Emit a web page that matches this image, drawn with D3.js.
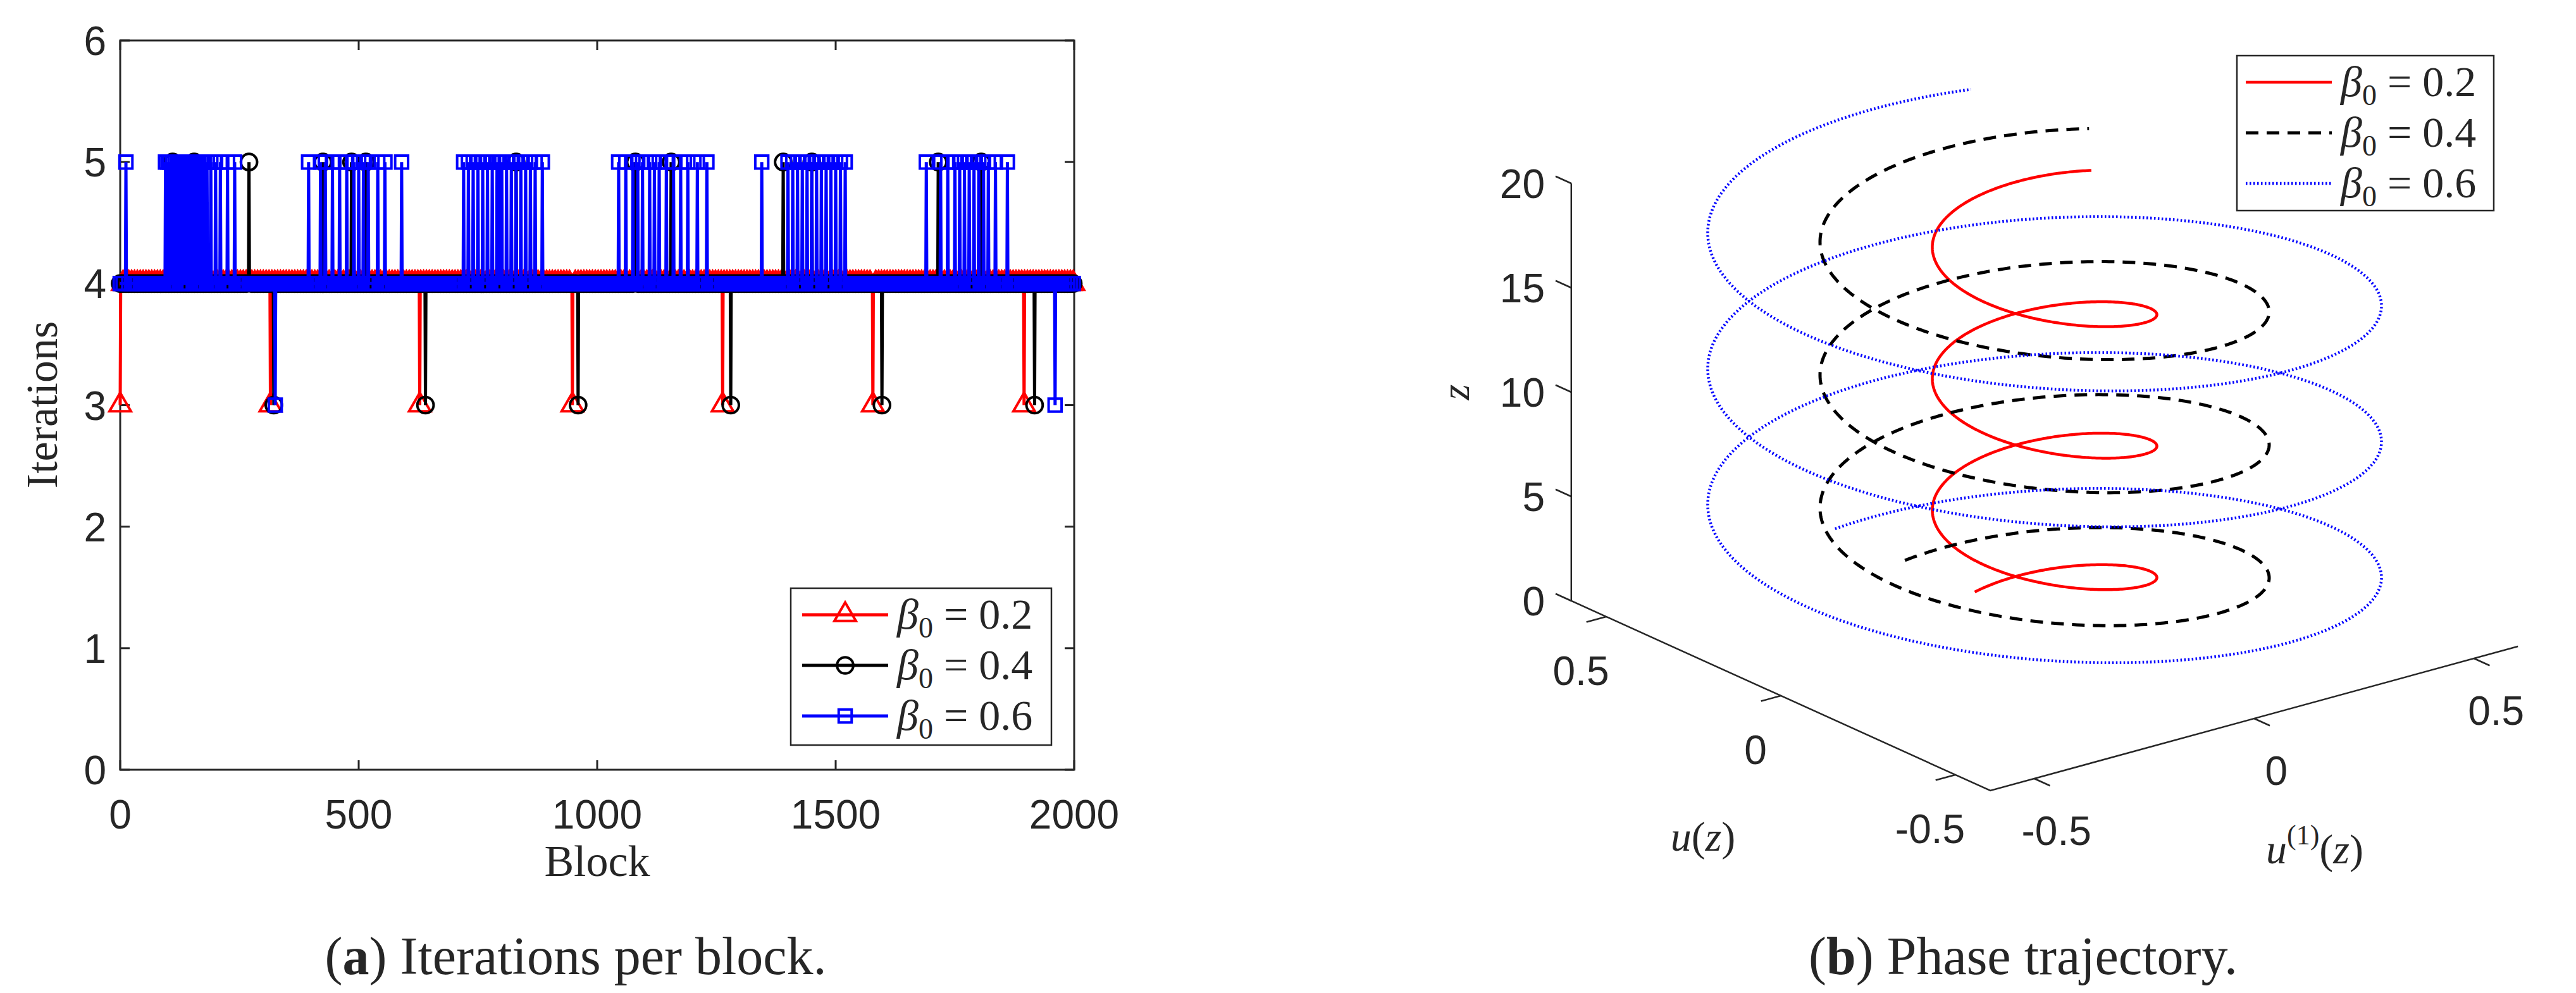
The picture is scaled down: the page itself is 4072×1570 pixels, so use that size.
<!DOCTYPE html>
<html>
<head>
<meta charset="utf-8">
<script src="https://cdn.jsdelivr.net/npm/d3@7"></script>
<style>
  body { margin: 0; background: #fff; }
  svg text { fill: #262626; }
</style>
</head>
<body>
<svg id="chart" width="4072" height="1570"></svg>
<script>
// ---- data: left panel (iterations per block) ----
const nBlocks = 2000;
const blocksTicks = [0, 500, 1000, 1500, 2000];
const iterTicks = [0, 1, 2, 3, 4, 5, 6];
const betaLabels = ["0.2", "0.4", "0.6"];
// blocks where the iteration count differs from 4
const red3 = [0, 315, 628, 948, 1263, 1578, 1895];
const red5 = [];
const black3 = [322, 640, 960, 1280, 1597, 1917];
const black5 = [110, 155, 270, 425, 485, 515, 830, 1080, 1155, 1390, 1450, 1715, 1805];
const blue3 = [325, 1960];
const blue5 = [12, 95, 100, 104, 110, 115, 120, 124, 130, 135, 140, 145, 150, 155, 160, 165, 170, 176, 182, 190, 200, 210, 225, 240,
  395, 420, 430, 445, 460, 475, 490, 500, 510, 520, 540, 555, 590,
  720, 730, 740, 750, 760, 770, 780, 790, 795, 800, 810, 820, 830, 840, 850, 860, 870, 885,
  1045, 1060, 1075, 1085, 1095, 1110, 1120, 1130, 1145, 1160, 1175, 1190, 1210, 1230,
  1345, 1400, 1410, 1420, 1430, 1440, 1450, 1460, 1470, 1480, 1490, 1500, 1510, 1520,
  1690, 1720, 1735, 1750, 1760, 1770, 1780, 1790, 1800, 1810, 1820, 1835, 1860];

// ---- data: right panel (phase trajectory) ----
const betas = [0.2, 0.4, 0.6];
const omegas = [0.9975, 0.986, 0.965];   // angular rate read from where each spiral ends
const zMax = 20;
const zTicks = [0, 5, 10, 15, 20];
const uTicks = [-0.5, 0, 0.5];

const svg = d3.select("#chart");
const numFont = "'Liberation Sans', Arial, sans-serif";
const serif = "'Liberation Serif', 'DejaVu Serif', serif";

function series(threes, fives) {
  const out = [];
  for (let b = 0; b <= nBlocks; b++) {
    let v = 4;
    if (threes.includes(b)) v = 3;
    if (fives.includes(b)) v = 5;
    out.push({ b: b, v: v });
  }
  return out;
}

// ================= left panel =================
const x = d3.scaleLinear().domain([0, nBlocks]).range([190, 1698]);
const y = d3.scaleLinear().domain([0, 6]).range([1217, 64]);

const left = svg.append("g");
left.append("rect").attr("x", 190).attr("y", 64).attr("width", 1508).attr("height", 1153)
  .attr("fill", "none").attr("stroke", "#262626").attr("stroke-width", 3);

const tickLen = 15;
blocksTicks.forEach(t => {
  left.append("line").attr("x1", x(t)).attr("x2", x(t)).attr("y1", 1217).attr("y2", 1217 - tickLen).attr("stroke", "#262626").attr("stroke-width", 3);
  left.append("line").attr("x1", x(t)).attr("x2", x(t)).attr("y1", 64).attr("y2", 64 + tickLen).attr("stroke", "#262626").attr("stroke-width", 3);
  left.append("text").attr("x", x(t)).attr("y", 1310).attr("text-anchor", "middle")
    .attr("font-family", numFont).attr("font-size", 64).text(t);
});
iterTicks.forEach(t => {
  left.append("line").attr("x1", 190).attr("x2", 190 + tickLen).attr("y1", y(t)).attr("y2", y(t)).attr("stroke", "#262626").attr("stroke-width", 3);
  left.append("line").attr("x1", 1698).attr("x2", 1698 - tickLen).attr("y1", y(t)).attr("y2", y(t)).attr("stroke", "#262626").attr("stroke-width", 3);
  left.append("text").attr("x", 168).attr("y", y(t) + 23).attr("text-anchor", "end")
    .attr("font-family", numFont).attr("font-size", 64).text(t);
});
left.append("text").attr("transform", "translate(90,640) rotate(-90)").attr("text-anchor", "middle")
  .attr("font-family", serif).attr("font-size", 70).text("Iterations");
left.append("text").attr("x", 944).attr("y", 1385).attr("text-anchor", "middle")
  .attr("font-family", serif).attr("font-size", 70).text("Block");

const sym = {
  tri: d3.symbol().type(d3.symbolTriangle).size(500),
  circ: d3.symbol().type(d3.symbolCircle).size(520),
  sq: d3.symbol().type(d3.symbolSquare).size(420)
};
const leftSeries = [
  { data: series(red3, red5), color: "#ff0000", sym: sym.tri },
  { data: series(black3, black5), color: "#000000", sym: sym.circ },
  { data: series(blue3, blue5), color: "#0000ff", sym: sym.sq }
];
const line = d3.line().x(d => x(d.b)).y(d => y(d.v));
const plot = left.append("g");
leftSeries.forEach(s => {
  plot.append("path").attr("d", line(s.data)).attr("fill", "none")
    .attr("stroke", s.color).attr("stroke-width", 5);
  plot.selectAll(null).data(s.data.filter(d => d.v !== 4 || d.b % 6 === 0)).enter().append("path")
    .attr("d", s.sym()).attr("transform", d => `translate(${x(d.b)},${y(d.v)})`)
    .attr("fill", "none").attr("stroke", s.color).attr("stroke-width", 4);
});

// legend (left)
const lg = left.append("g");
lg.append("rect").attr("x", 1250).attr("y", 930).attr("width", 412).attr("height", 248)
  .attr("fill", "#fff").attr("stroke", "#262626").attr("stroke-width", 2.5);
leftSeries.forEach((s, i) => {
  const yy = 972 + i * 80;
  lg.append("line").attr("x1", 1268).attr("x2", 1404).attr("y1", yy).attr("y2", yy).attr("stroke", s.color).attr("stroke-width", 5);
  lg.append("path").attr("d", s.sym()).attr("transform", `translate(1336,${yy})`).attr("fill", "none").attr("stroke", s.color).attr("stroke-width", 4);
  const t = lg.append("text").attr("x", 1418).attr("y", yy + 22).attr("font-family", serif).attr("font-size", 68).attr("fill", "#000");
  t.append("tspan").attr("font-style", "italic").text("β");
  t.append("tspan").attr("font-size", 46).attr("dy", 14).text("0");
  t.append("tspan").attr("dy", -14).text(" = " + betaLabels[i]);
});

svg.append("text").attr("x", 910).attr("y", 1540).attr("text-anchor", "middle")
  .attr("font-family", serif).attr("font-size", 84).attr("fill", "#000")
  .call(t => {
    t.append("tspan").text("(");
    t.append("tspan").attr("font-weight", "bold").text("a");
    t.append("tspan").text(") Iterations per block.");
  });

// ================= right panel (3D projection) =================
const O = [3232, 986];
const eu = [-552, -250];   // screen offset per unit of u(z)
const e1 = [695, -190];    // screen offset per unit of u^(1)(z)
const zs = d3.scaleLinear().domain([0, zMax]).range([0, -660]);
const uMin = -0.6, uMax = 0.6;
function proj(u, u1, z) {
  return [O[0] + u * eu[0] + u1 * e1[0], O[1] + u * eu[1] + u1 * e1[1] + zs(z)];
}

const right = svg.append("g");
const axStyle = g => g.attr("stroke", "#262626").attr("stroke-width", 2.5).attr("fill", "none");
const pA = proj(uMax, uMin, 0), pB = proj(uMin, uMin, 0), pC = proj(uMin, uMax, 0), pT = proj(uMax, uMin, zMax);
right.append("path").attr("d", d3.line()([pT, pA, pB, pC])).call(axStyle);

zTicks.forEach(t => {
  const p = proj(uMax, uMin, t), q = proj(uMax + 0.045, uMin, t);
  right.append("line").attr("x1", p[0]).attr("y1", p[1]).attr("x2", q[0]).attr("y2", q[1]).call(axStyle);
  right.append("text").attr("x", 2442).attr("y", p[1] + 23).attr("text-anchor", "end")
    .attr("font-family", numFont).attr("font-size", 64).text(t);
});
uTicks.forEach(t => {
  const p = proj(t, uMin, 0), q = proj(t, uMin - 0.045, 0);
  right.append("line").attr("x1", p[0]).attr("y1", p[1]).attr("x2", q[0]).attr("y2", q[1]).call(axStyle);
  right.append("text").attr("x", p[0] - 40).attr("y", p[1] + 108).attr("text-anchor", "middle")
    .attr("font-family", numFont).attr("font-size", 64).text(t);
  const r = proj(uMin, t, 0), s = proj(uMin - 0.045, t, 0);
  right.append("line").attr("x1", r[0]).attr("y1", r[1]).attr("x2", s[0]).attr("y2", s[1]).call(axStyle);
  right.append("text").attr("x", r[0] + 35).attr("y", r[1] + 105).attr("text-anchor", "middle")
    .attr("font-family", numFont).attr("font-size", 64).text(t);
});
right.append("text").attr("transform", "translate(2322,620) rotate(-90)").attr("text-anchor", "middle")
  .attr("font-family", serif).attr("font-style", "italic").attr("font-size", 64).text("z");
right.append("text").attr("x", 2692).attr("y", 1345).attr("text-anchor", "middle")
  .attr("font-family", serif).attr("font-size", 66)
  .call(t => {
    t.append("tspan").attr("font-style", "italic").text("u");
    t.append("tspan").text("(");
    t.append("tspan").attr("font-style", "italic").text("z");
    t.append("tspan").text(")");
  });
right.append("text").attr("x", 3659).attr("y", 1365).attr("text-anchor", "middle")
  .attr("font-family", serif).attr("font-size", 66)
  .call(t => {
    t.append("tspan").attr("font-style", "italic").text("u");
    t.append("tspan").attr("font-size", 44).attr("dy", -30).text("(1)");
    t.append("tspan").attr("dy", 30).text("(");
    t.append("tspan").attr("font-style", "italic").text("z");
    t.append("tspan").text(")");
  });

const helixStyles = [
  { color: "#ff0000", dash: null, w: 4.5 },
  { color: "#000000", dash: "20,13", w: 5 },
  { color: "#0000ff", dash: "2.5,3.5", w: 4.5 }
];
const zSamples = d3.range(0, zMax + 0.001, 0.02);
betas.forEach((b, i) => {
  const w = omegas[i];
  const pts = zSamples.map(z => proj(b * Math.cos(w * z), b * Math.sin(w * z), z));
  right.append("path").attr("d", d3.line()(pts)).attr("fill", "none")
    .attr("stroke", helixStyles[i].color).attr("stroke-width", helixStyles[i].w)
    .attr("stroke-dasharray", helixStyles[i].dash);
});

// legend (right)
const rg = right.append("g");
rg.append("rect").attr("x", 3536).attr("y", 88).attr("width", 406).attr("height", 245)
  .attr("fill", "#fff").attr("stroke", "#262626").attr("stroke-width", 2.5);
betas.forEach((b, i) => {
  const yy = 130 + i * 80;
  rg.append("line").attr("x1", 3550).attr("x2", 3686).attr("y1", yy).attr("y2", yy)
    .attr("stroke", helixStyles[i].color).attr("stroke-width", helixStyles[i].w)
    .attr("stroke-dasharray", helixStyles[i].dash);
  const t = rg.append("text").attr("x", 3700).attr("y", yy + 22).attr("font-family", serif).attr("font-size", 68).attr("fill", "#000");
  t.append("tspan").attr("font-style", "italic").text("β");
  t.append("tspan").attr("font-size", 46).attr("dy", 14).text("0");
  t.append("tspan").attr("dy", -14).text(" = " + betaLabels[i]);
});

svg.append("text").attr("x", 3198).attr("y", 1540).attr("text-anchor", "middle")
  .attr("font-family", serif).attr("font-size", 84).attr("fill", "#000")
  .call(t => {
    t.append("tspan").text("(");
    t.append("tspan").attr("font-weight", "bold").text("b");
    t.append("tspan").text(") Phase trajectory.");
  });
</script>
</body>
</html>
